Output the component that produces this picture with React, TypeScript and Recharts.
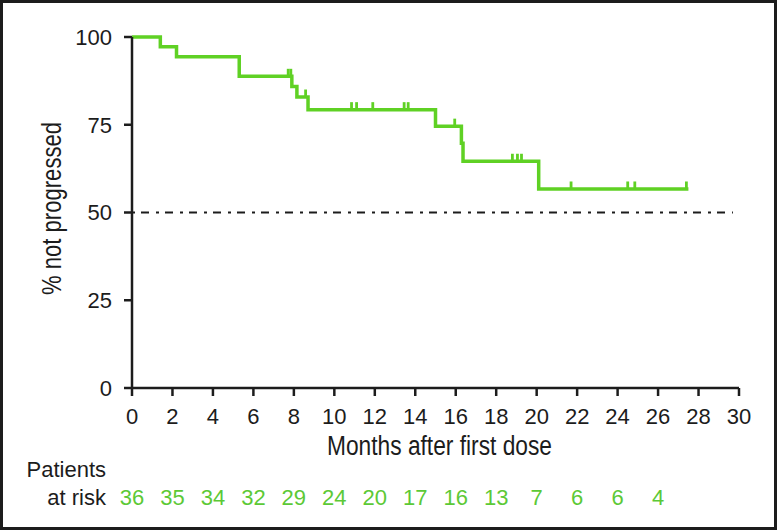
import React from "react";
import {
  ComposedChart,
  Line,
  Scatter,
  XAxis,
  YAxis,
  ReferenceLine,
} from "recharts";

// Kaplan-Meier steps
const months = [0, 1.4, 2.2, 5.3, 7.9, 8.15, 8.7, 15.0, 16.28, 16.36, 20.1, 27.5];
const pctNotProgressed = [100, 97.2, 94.4, 88.8, 85.9, 82.9, 79.3, 74.6, 69.7, 64.6, 56.7, 56.7];

// censored patients (tick marks)
const censorMonths = [
  7.72, 7.85, 8.58, 10.85, 11.1, 11.9, 13.45, 13.65, 15.95, 18.8, 19.05, 19.25,
  21.7, 24.5, 24.85, 27.4,
];

const xTicks = [0, 2, 4, 6, 8, 10, 12, 14, 16, 18, 20, 22, 24, 26, 28, 30];
const yTicks = [0, 25, 50, 75, 100];

const riskMonths = [0, 2, 4, 6, 8, 10, 12, 14, 16, 18, 20, 22, 24, 26];
const atRisk = [36, 35, 34, 32, 29, 24, 20, 17, 16, 13, 7, 6, 6, 4];

const GREEN = "#5fd124";
const RISK_GREEN = "#5cc936";
const INK = "#1c1c1c";
const TICK_FONT = "'Liberation Sans', Arial, sans-serif";
const TITLE_FONT = "'Liberation Sans', Arial, sans-serif";

const kmData = months.map((m, i) => ({ month: m, pct: pctNotProgressed[i] }));

function survivalAt(t: number) {
  let v = pctNotProgressed[0];
  months.forEach((m, i) => {
    if (m <= t) v = pctNotProgressed[i];
  });
  return v;
}

const censorData = censorMonths.map((m) => ({ month: m, pct: survivalAt(m) }));

const CensorMark = (props: any) => {
  const { cx, cy } = props;
  if (cx == null || cy == null) return null;
  return <rect x={cx - 1.4} y={cy - 7.5} width={2.8} height={7.5} fill={GREEN} />;
};

// month label plus the patients-at-risk count underneath
const MonthTick = (props: any) => {
  const { x, payload } = props;
  const idx = riskMonths.indexOf(payload.value);
  return (
    <g fontFamily={TICK_FONT} fontSize={22}>
      <text x={x} y={424} textAnchor="middle" fill={INK}>
        {payload.value}
      </text>
      {idx >= 0 && (
        <text x={x} y={505} textAnchor="middle" fill={RISK_GREEN}>
          {atRisk[idx]}
        </text>
      )}
    </g>
  );
};

export default function App() {
  return (
    <div
      style={{
        position: "absolute",
        left: 0,
        top: 0,
        width: 780,
        height: 530,
        background: "#fff",
      }}
    >
      <ComposedChart
        width={780}
        height={530}
        margin={{ top: 37, right: 41, bottom: 20, left: 60 }}
      >
        <XAxis
          dataKey="month"
          type="number"
          domain={[0, 30]}
          ticks={xTicks}
          allowDataOverflow
          height={122}
          tickSize={8}
          stroke={INK}
          strokeWidth={2.5}
          tick={<MonthTick />}
          label={{
            content: () => (
              <g fill={INK} fontFamily={TITLE_FONT}>
                <text
                  x={327}
                  y={455}
                  fontSize={27}
                  textLength={225}
                  lengthAdjust="spacingAndGlyphs"
                >
                  Months after first dose
                </text>
                <text x={106} y={477} textAnchor="end" fontSize={22}>
                  Patients
                </text>
                <text x={106} y={505} textAnchor="end" fontSize={22}>
                  at risk
                </text>
              </g>
            ),
          }}
        />
        <YAxis
          dataKey="pct"
          type="number"
          domain={[0, 100]}
          ticks={yTicks}
          width={72}
          tickSize={8}
          tickMargin={12}
          stroke={INK}
          strokeWidth={2.5}
          tick={{ fill: INK, fontSize: 22, fontFamily: TICK_FONT }}
          label={{
            content: () => (
              <text
                x={0}
                y={0}
                transform="translate(61 295) rotate(-90)"
                fontFamily={TITLE_FONT}
                fontSize={27}
                textLength={173}
                lengthAdjust="spacingAndGlyphs"
                fill={INK}
              >
                % not progressed
              </text>
            ),
          }}
        />
        <ReferenceLine
          segment={[
            { x: 0, y: 50 },
            { x: 29.7, y: 50 },
          ]}
          stroke={INK}
          strokeWidth={2}
          strokeDasharray="3 6 8 7"
        />
        <Line
          data={kmData}
          dataKey="pct"
          type="stepAfter"
          stroke={GREEN}
          strokeWidth={3.5}
          dot={false}
          activeDot={false}
          isAnimationActive={false}
        />
        <Scatter
          data={censorData}
          dataKey="pct"
          fill={GREEN}
          shape={<CensorMark />}
          isAnimationActive={false}
        />
      </ComposedChart>
      <div
        style={{
          position: "absolute",
          left: 0,
          top: 0,
          width: 777,
          height: 530,
          boxSizing: "border-box",
          border: `3px solid ${INK}`,
          pointerEvents: "none",
        }}
      />
    </div>
  );
}
